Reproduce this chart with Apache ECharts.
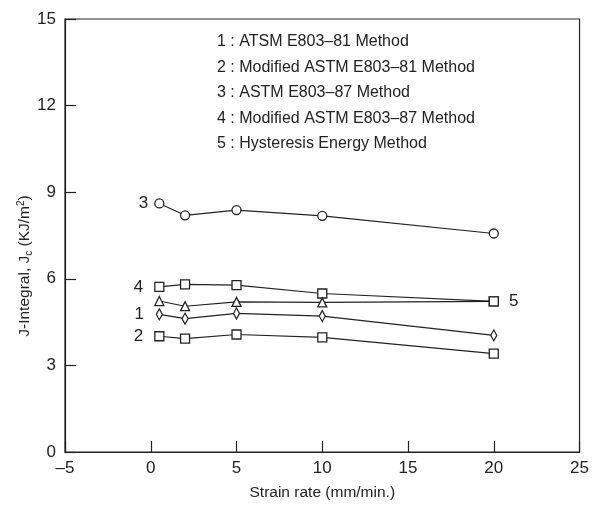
<!DOCTYPE html>
<html>
<head>
<meta charset="utf-8">
<script src="https://cdn.jsdelivr.net/npm/echarts@6/dist/echarts.min.js"></script>
<style>
  html, body { margin: 0; padding: 0; background: #fff; }
  #chart { width: 592px; height: 507px; }
</style>
</head>
<body>
<div id="chart"></div>
<script>
// strain rates (mm/min.)
var strainRate = [0.5, 2, 5, 10, 20];

// J-integral values per method
var method1 = [4.77, 4.62, 4.80, 4.71, 4.04];
var method2 = [4.01, 3.93, 4.07, 3.97, 3.41];
var method3 = [8.61, 8.20, 8.38, 8.18, 7.57];
var method4 = [5.72, 5.81, 5.78, 5.49, 5.22];
var method5 = [5.23, 5.05, 5.20, 5.18, 5.22];

var legendLines = [
  '1 : ATSM E803\u201381 Method',
  '2 : Modified ASTM E803\u201381 Method',
  '3 : ASTM E803\u201387 Method',
  '4 : Modified ASTM E803\u201387 Method',
  '5 : Hysteresis Energy Method'
];

var xTicks = { min: -5, max: 25, interval: 5 };
var yTicks = { min: 0, max: 15, interval: 3 };

var ink = '#222';
var font = '"Liberation Sans", Arial, Helvetica, sans-serif';
var diamond = 'path://M0,-10L5,0L0,10L-5,0Z';

function pairs(ys) {
  return strainRate.map(function (x, i) { return [x, ys[i]]; });
}

// put a number label next to one point of a series
function withLabel(ys, idx, text, pos, dist, symbol) {
  var d = pairs(ys);
  d[idx] = {
    value: d[idx],
    label: {
      show: true, formatter: text, position: pos, distance: dist,
      color: ink, fontSize: 17, fontFamily: font
    }
  };
  if (symbol) d[idx].symbol = symbol;
  return d;
}

function lineSeries(name, data, symbol, size) {
  return {
    name: name,
    type: 'line',
    data: data,
    symbol: symbol,
    symbolSize: size,
    showAllSymbol: true,
    lineStyle: { color: ink, width: 1.2 },
    itemStyle: { color: '#fff', borderColor: ink, borderWidth: 1.3 },
    emphasis: { disabled: true },
    z: 3
  };
}

var chart = echarts.init(document.getElementById('chart'));

chart.setOption({
  animation: false,
  grid: {
    left: 65, right: 12, top: 19, bottom: 55,
    show: true, borderColor: ink, borderWidth: 1.2, backgroundColor: 'transparent'
  },
  xAxis: {
    type: 'value',
    min: xTicks.min, max: xTicks.max, interval: xTicks.interval,
    name: 'Strain rate (mm/min.)',
    nameLocation: 'middle',
    nameGap: 33,
    nameTextStyle: { color: ink, fontSize: 15.5, fontFamily: font },
    axisLine: { onZero: false, lineStyle: { color: ink, width: 1.2 } },
    axisTick: { inside: true, length: 11, lineStyle: { color: ink, width: 1.2 } },
    axisLabel: {
      color: ink, fontSize: 17, fontFamily: font, margin: 8,
      formatter: function (v) { return String(v).replace('-', '\u2013'); }
    },
    splitLine: { show: false }
  },
  yAxis: {
    type: 'value',
    min: yTicks.min, max: yTicks.max, interval: yTicks.interval,
    axisLine: { onZero: false, lineStyle: { color: ink, width: 1.2 } },
    axisTick: { inside: true, length: 11, lineStyle: { color: ink, width: 1.2 } },
    axisLabel: { color: ink, fontSize: 17, fontFamily: font, margin: 9 },
    splitLine: { show: false }
  },
  graphic: [
    {
      type: 'text',
      x: 25, y: 266,
      rotation: Math.PI / 2,
      style: {
        text: '{a|J-Integral, J}{sub|c}{a| (KJ/m}{sup|2}{a|)}',
        align: 'center',
        verticalAlign: 'middle',
        fill: ink,
        rich: {
          a: { fontSize: 15.5, fontFamily: font, color: ink, lineHeight: 22, verticalAlign: 'middle' },
          sub: { fontSize: 10, fontFamily: font, color: ink, lineHeight: 22, padding: [8, 0, 0, 0] },
          sup: { fontSize: 10, fontFamily: font, color: ink, lineHeight: 22, padding: [0, 0, 8, 0] }
        }
      }
    }
  ].concat(legendLines.map(function (t, i) {
    return {
      type: 'text',
      x: 217, y: 42 + i * 25.5,
      style: {
        text: t, fill: ink, fontSize: 16, fontFamily: font,
        align: 'left', verticalAlign: 'middle'
      }
    };
  })),
  series: [
    lineSeries('1', withLabel(method1, 0, '1', 'left', 12), diamond, [6, 11]),
    lineSeries('2', withLabel(method2, 0, '2', 'left', 11), 'rect', 9),
    lineSeries('3', withLabel(method3, 0, '3', 'left', 6), 'circle', 9),
    lineSeries('4', withLabel(method4, 0, '4', 'left', 11), 'rect', 9),
    lineSeries('5', withLabel(method5, 4, '5', 'right', 10, 'rect'), 'triangle', 9)
  ]
});
</script>
</body>
</html>
